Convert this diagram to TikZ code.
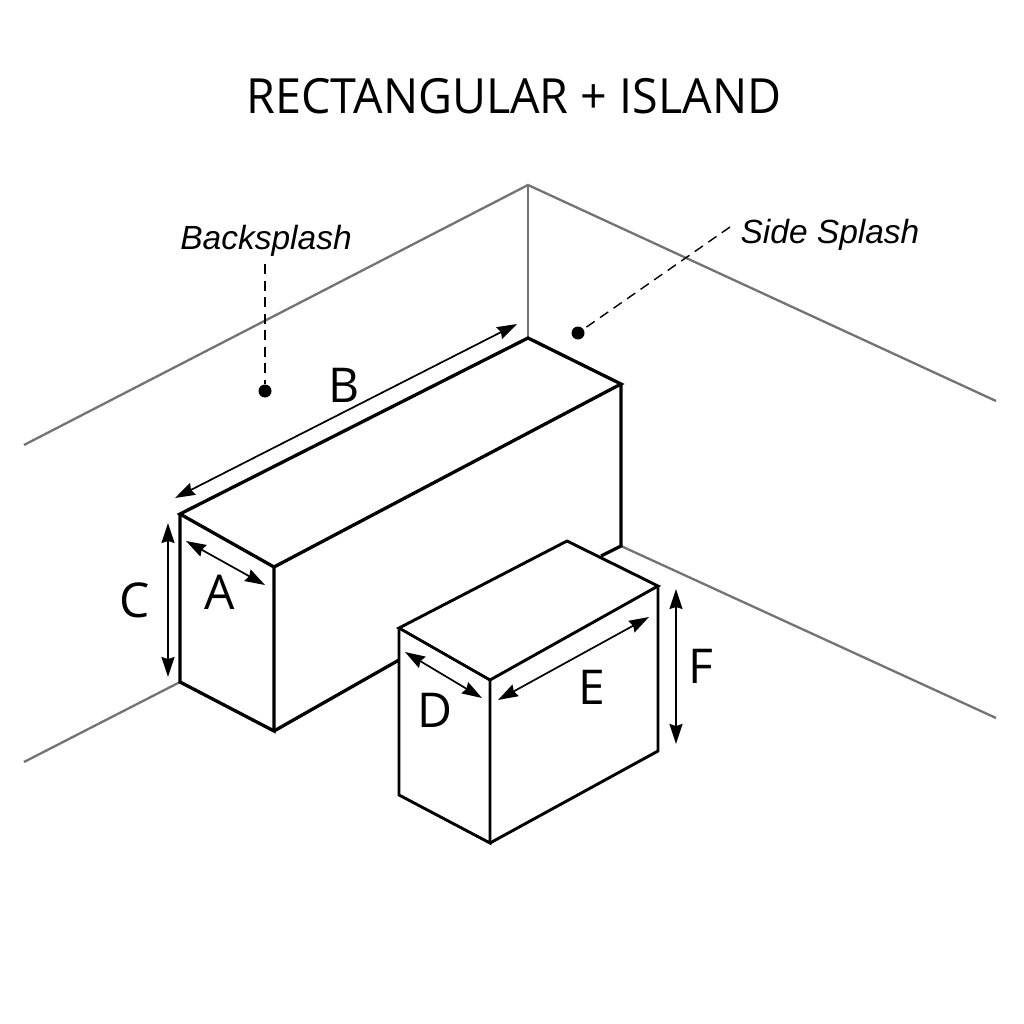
\documentclass[tikz,border=0pt]{standalone}
\usepackage{fontspec}
\setmainfont{Open Sans}
\newfontfamily\notefont{Liberation Sans}
\newfontfamily\titlefont[FakeStretch=0.962]{Open Sans}
\usetikzlibrary{arrows.meta}
\tikzset{
  wall/.style={draw=black!55,line width=2.3pt},
  box/.style={draw=black,line width=3.3pt,line join=miter},
  thin box/.style={draw=black,line width=2.9pt,line join=miter},
  dim/.style={draw=black,line width=1.7pt,{Stealth[length=20pt,width=13pt,inset=2pt]}-{Stealth[length=20pt,width=13pt,inset=2pt]}},
  leader/.style={draw=black,line width=1.4pt,dash pattern=on 10pt off 6.5pt},
  dot/.style={circle,fill=black,inner sep=0pt,minimum size=13pt},
  letter/.style={font=\fontsize{48}{48}\selectfont,inner sep=0pt,anchor=center},
  note/.style={font=\notefont\itshape\fontsize{33.5}{34}\selectfont,inner sep=0pt},
}
\begin{document}
\begin{tikzpicture}[x=1pt,y=-1pt]
\useasboundingbox[fill=white] (0,0) rectangle (1024,1024);
% corner points
\coordinate (wl) at (24,445);
\coordinate (wt) at (528,185);
\coordinate (wr) at (996,401);
\coordinate (fl) at (24,762);
\coordinate (fr) at (996,718);
\coordinate (bb) at (528,338);
\coordinate (br) at (621,384);
\coordinate (bf) at (274,567);
\coordinate (bl) at (180,514);
\coordinate (bfb) at (274,731);
\coordinate (blb) at (180,682);
\coordinate (brb) at (621,546);
\coordinate (bh1) at (399,660);
\coordinate (bh2) at (601,556);
\coordinate (il) at (399,628);
\coordinate (ib) at (567,541);
\coordinate (ir) at (658,586);
\coordinate (if) at (490,680);
\coordinate (ifb) at (490,843);
\coordinate (ilb) at (399,795);
\coordinate (irb) at (658,751);
% walls
\draw[wall] (wl) -- (wt) -- (wr);
\draw[wall] (wt) -- (bb);
\draw[wall] (fl) -- (blb);
\draw[wall] (brb) -- (fr);
% big box
\draw[box] (bl) -- (bb) -- (br) -- (bf) -- cycle;
\draw[box] (bl) -- (blb) -- (bfb) -- (bf);
\draw[box] (br) -- (brb) -- (bh2);
\draw[box] (bfb) -- (bh1);
% island
\draw[thin box] (il) -- (ib) -- (ir) -- (if) -- cycle;
\draw[thin box] (il) -- (ilb) -- (ifb) -- (if);
\draw[thin box] (ifb) -- (irb) -- (ir);
% dimension arrows
\coordinate (a1) at (186,541); \coordinate (a2) at (265,585);
\coordinate (b1) at (175,498); \coordinate (b2) at (517,324);
\coordinate (c1) at (168,523); \coordinate (c2) at (168,677);
\coordinate (d1) at (405,652); \coordinate (d2) at (482,698);
\coordinate (e1) at (498,700); \coordinate (e2) at (649,617);
\coordinate (f1) at (676,589); \coordinate (f2) at (676,744);
\draw[dim] (a1) -- (a2);
\draw[dim] (b1) -- (b2);
\draw[dim] (c1) -- (c2);
\draw[dim] (d1) -- (d2);
\draw[dim] (e1) -- (e2);
\draw[dim] (f1) -- (f2);
% leaders
\node[dot] (bd) at (265,391) {};
\node[dot] (sd) at (578,333) {};
\coordinate (bt) at (265,264);
\coordinate (st) at (730,227);
\draw[leader] (bt) -- (bd);
\draw[leader] (st) -- (sd);
% text
\node[font=\titlefont\fontsize{48.5}{49}\selectfont,inner sep=0pt] (title) at (514,96) {RECTANGULAR + ISLAND};
\node[note] (nb) at (266,241) {Backsplash};
\node[note] (ns) at (830,235) {Side Splash};
\node[letter] (la) at (220,592) {A};
\node[letter] (lb) at (344,385) {B};
\node[letter] (lc) at (135,600) {C};
\node[letter] (ld) at (435,710) {D};
\node[letter] (le) at (592,687) {E};
\node[letter] (lf) at (701,666) {F};
\end{tikzpicture}
\end{document}
